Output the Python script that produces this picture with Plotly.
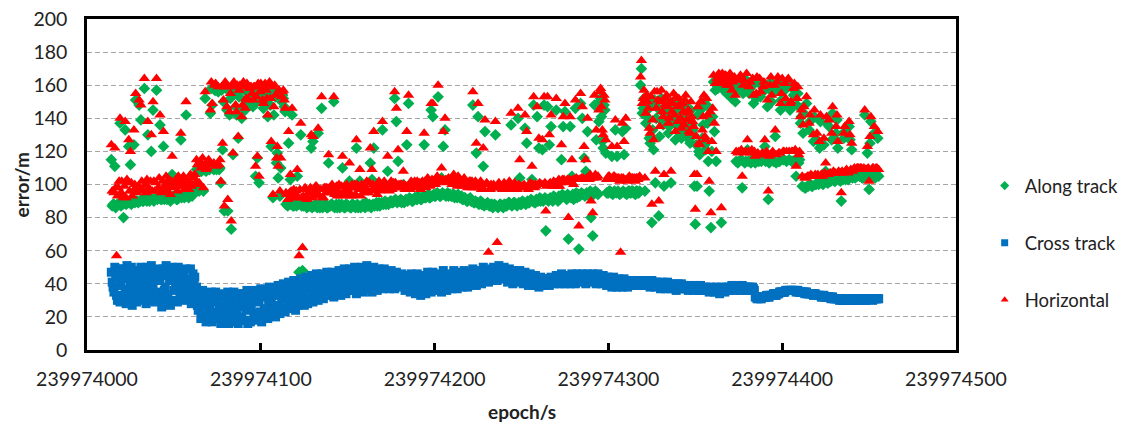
import plotly.graph_objects as go

# ---------------- data ----------------
EPOCH0 = 239974014          # first epoch
HALF = 0.5                  # the second list of each series sits half a second later

along = [
    115, 88, 111, 47, 88, 137, 89, 80, 133, 89,
    123, 112, 89, 124, 151, 90, 148, 139, 90, 158,
    91, 130, 90, 120, 145, 91, 157, 92, 136, 91,
    123, 92, 91, 93, 90, 106, 92, 93, 91, 92,
    127, 93, 92, 142, 94, 93, 95, 94, 96, 109,
    97, 109, 108, 96, 152, 109, 110, 143, 148, 109,
    157, 110, 109, 101, 121, 84, 158, 84, 142, 73,
    118, 157, 142, 128, 157, 140, 158, 145, 157, 149,
    158, 152, 157, 105, 116, 101, 157, 150, 156, 153,
    141, 157, 123, 92, 156, 113, 104, 93, 150, 152,
    144, 88, 125, 103, 142, 87, 89, 105, 47, 130,
    48, 88, 87, 88, 87, 122, 126, 87, 88, 131,
    86, 146, 87, 88, 86, 113, 87, 88, 150, 87,
    86, 88, 87, 110, 86, 88, 87, 102, 86, 88,
    87, 122, 86, 102, 87, 88, 86, 88, 87, 113,
    103, 122, 88, 87, 89, 88, 133, 89, 88, 108,
    89, 90, 89, 152, 138, 114, 90, 89, 100, 90,
    124, 149, 91, 90, 91, 92, 91, 92, 91, 92,
    124, 92, 93, 92, 145, 141, 93, 94, 153, 93,
    104, 123, 133, 94, 93, 94, 93, 94, 93, 92,
    93, 92, 91, 92, 91, 90, 91, 90, 148, 89,
    119, 141, 89, 88, 111, 132, 88, 42, 87, 88,
    87, 130, 50, 87, 88, 87, 88, 87, 88, 89,
    136, 88, 89, 88, 140, 104, 88, 89, 134, 125,
    89, 90, 103, 148, 89, 141, 122, 90, 121, 148,
    72, 147, 124, 135, 90, 91, 145, 90, 91, 115,
    135, 144, 91, 67, 135, 105, 91, 146, 92, 61,
    149, 140, 116, 108, 132, 93, 80, 69, 148, 127,
    94, 150, 141, 122, 145, 95, 95, 96, 117, 95,
    133, 117, 95, 42, 132, 118, 134, 95, 96, 95,
    96, 95, 96, 95, 96, 170, 146, 96, 148, 140,
    125, 77, 121, 101, 150, 81, 145, 138, 99, 147,
    141, 135, 101, 144, 137, 149, 132, 143, 128, 139,
    146, 134, 140, 125, 136, 130, 76, 99, 120, 145,
    128, 150, 121, 137, 96, 74, 141, 132, 114, 158,
    162, 77, 160, 162, 155, 158, 163, 152, 160, 150,
    158, 114, 162, 98, 159, 114, 121, 155, 113, 160,
    114, 152, 115, 161, 114, 156, 123, 115, 91, 157,
    150, 114, 129, 158, 114, 145, 160, 115, 148, 159,
    115, 146, 114, 157, 105, 155, 115, 141, 131, 98,
    149, 99, 138, 99, 126, 100, 127, 100, 138, 101,
    124, 108, 101, 135, 102, 143, 102, 131, 122, 103,
    90, 103, 132, 104, 103, 127, 121, 105, 104, 105,
    106, 105, 104, 106, 105, 119, 97, 138, 106, 131,
    105, 128,
]

along_half = [
    87, 88, 86, 88, 89, 87, 88, 89, 88, 89,
    89, 88, 90, 89, 90, 89, 90, 91, 90, 91,
    90, 91, 92, 91, 90, 92, 91, 92, 91, 92,
    91, 92, 93, 92, 91, 93, 92, 91, 92, 93,
    92, 93, 94, 93, 92, 94, 93, 95, 96, 109,
    96, 108, 110, 109, 108, 110, 109, 158, 110, 157,
    109, 156, 110, 157, 150, 159, 145, 158, 152, 157,
    158, 147, 157, 153, 158, 146, 157, 150, 158, 155,
    157, 147, 158, 150, 157, 154, 158, 146, 157, 151,
    156, 148, 157, 142, 153, 119, 155, 110, 154, 147,
    88, 87, 89, 88, 87, 88, 87, 88, 89, 87,
    87, 88, 86, 87, 88, 86, 87, 88, 86, 87,
    88, 86, 87, 88, 86, 87, 88, 87, 86, 88,
    87, 86, 88, 87, 86, 88, 87, 86, 88, 87,
    86, 88, 87, 86, 88, 87, 89, 87, 88, 86,
    88, 87, 89, 88, 87, 89, 88, 90, 89, 88,
    90, 89, 90, 91, 89, 90, 91, 90, 89, 91,
    90, 92, 91, 90, 92, 91, 93, 92, 91, 93,
    92, 93, 94, 92, 93, 94, 93, 95, 94, 93,
    95, 94, 93, 95, 94, 93, 94, 92, 93, 94,
    92, 93, 91, 92, 90, 91, 92, 90, 89, 90,
    89, 88, 90, 89, 87, 88, 89, 87, 88, 86,
    88, 87, 86, 88, 87, 86, 88, 87, 89, 88,
    87, 89, 88, 87, 89, 88, 90, 89, 88, 90,
    89, 91, 90, 89, 91, 90, 92, 91, 90, 92,
    91, 90, 92, 91, 93, 92, 91, 93, 92, 94,
    93, 92, 94, 93, 92, 94, 93, 95, 94, 93,
    95, 94, 93, 95, 94, 96, 95, 94, 96, 95,
    138, 152, 126, 148, 119, 95, 96, 95, 94, 96,
    95, 96, 94, 95, 96, 95, 94, 96, 95, 96,
    95, 94, 96, 95, 160, 143, 152, 137, 145, 128,
    148, 133, 151, 140, 146, 129, 152, 136, 143, 149,
    131, 145, 139, 150, 127, 142, 147, 135, 144, 130,
    149, 138, 127, 145, 133, 99, 124, 142, 118, 146,
    136, 124, 148, 114, 139, 120, 162, 157, 160, 163,
    159, 163, 157, 162, 160, 155, 161, 158, 161, 114,
    113, 160, 115, 155, 113, 163, 114, 158, 115, 149,
    113, 162, 114, 153, 115, 159, 114, 147, 113, 162,
    115, 156, 113, 161, 114, 151, 115, 157, 114, 160,
    145, 114, 154, 115, 148, 113, 137, 99, 143, 98,
    99, 133, 100, 99, 141, 100, 101, 122, 101, 100,
    102, 137, 101, 102, 127, 103, 102, 139, 103, 102,
    104, 128, 103, 104, 135, 105, 104, 106, 105, 106,
    105, 106, 104, 142, 105, 106, 125, 105, 106, 104,
    106, 105,
]

cross = [
    47, 38, 50, 33, 44, 29, 49, 45, 36, 51,
    31, 42, 27, 48, 35, 40, 30, 50, 37, 44,
    28, 46, 33, 51, 39, 29, 47, 35, 42, 26,
    49, 38, 31, 45, 27, 50, 36, 41, 29, 48,
    34, 44, 30, 49, 37, 40, 28, 46, 44, 38,
    24, 35, 28, 20, 33, 18, 34, 22, 17, 29,
    35, 19, 26, 16, 32, 24, 18, 35, 21, 28,
    17, 33, 25, 16, 30, 20, 34, 18, 36, 27,
    17, 31, 22, 36, 18, 29, 37, 20, 25, 33,
    19, 38, 28, 21, 35, 24, 39, 22, 31, 40,
    23, 34, 41, 25, 36, 42, 24, 31, 33, 43,
    40, 27, 44, 28, 37, 45, 29, 40, 46, 30,
    36, 46, 31, 42, 47, 33, 39, 47, 32, 44,
    35, 48, 33, 41, 49, 34, 45, 49, 36, 42,
    50, 34, 46, 39, 50, 35, 44, 51, 37, 47,
    35, 50, 41, 36, 49, 44, 37, 49, 40, 46,
    37, 48, 42, 37, 47, 40, 38, 46, 42, 36,
    45, 39, 35, 44, 40, 34, 46, 38, 33, 45,
    41, 34, 47, 39, 35, 47, 42, 36, 46, 41,
    35, 48, 43, 36, 46, 40, 37, 48, 42, 37,
    47, 41, 38, 48, 43, 38, 46, 40, 49, 44,
    39, 48, 42, 40, 50, 45, 49, 41, 44, 42,
    50, 46, 42, 51, 45, 43, 50, 44, 41, 49,
    45, 40, 48, 43, 41, 48, 44, 40, 47, 43,
    39, 46, 42, 39, 45, 41, 38, 44, 40, 39,
    43, 41, 39, 44, 42, 40, 45, 41, 40, 46,
    42, 40, 45, 43, 40, 46, 42, 40, 46, 43,
    41, 46, 42, 40, 46, 44, 41, 46, 43, 40,
    46, 42, 40, 45, 42, 39, 44, 41, 38, 44,
    40, 38, 43, 41, 38, 43, 40, 38, 42, 40,
    39, 42, 40, 39, 42, 40, 41, 39, 42, 40,
    38, 42, 40, 38, 41, 39, 37, 41, 39, 37,
    41, 38, 37, 40, 38, 36, 40, 38, 40, 37,
    39, 38, 36, 39, 38, 36, 39, 37, 36, 39,
    37, 36, 38, 37, 35, 38, 37, 35, 38, 36,
    34, 38, 36, 35, 38, 37, 36, 39, 37, 36,
    39, 37, 36, 39, 37, 36, 38, 37, 36, 38,
    36, 32, 31, 32, 31, 32, 32, 33, 32, 33,
    33, 34, 33, 34, 34, 35, 35, 35, 36, 36,
    36, 36, 36, 36, 35, 36, 35, 35, 35, 34,
    35, 34, 34, 34, 33, 34, 33, 33, 33, 32,
    33, 32, 32, 32, 31, 32, 31, 31, 31, 30,
    31, 30, 30, 31, 30, 30, 31, 30, 31, 31,
    30, 31, 31, 31, 30, 31, 31, 31, 30, 31,
    31, 31,
]

cross_half = [
    41, 35, 46, 30, 49, 39, 33, 43, 28, 47,
    37, 50, 33, 45, 29, 43, 38, 47, 32, 41,
    50, 36, 44, 30, 48, 42, 34, 49, 31, 45,
    36, 51, 33, 42, 47, 30, 44, 38, 50, 33,
    40, 48, 35, 43, 31, 49, 36, 42, 32, 27,
    30, 19, 36, 25, 17, 31, 27, 35, 23, 33,
    21, 30, 34, 23, 19, 33, 27, 16, 31, 23,
    35, 20, 29, 34, 18, 26, 31, 24, 16, 33,
    26, 35, 19, 30, 34, 23, 17, 32, 36, 21,
    30, 34, 24, 37, 20, 33, 27, 38, 25, 35,
    37, 28, 32, 39, 29, 35, 40, 27, 38, 30,
    34, 42, 31, 39, 44, 33, 38, 45, 35, 42,
    40, 34, 45, 37, 42, 46, 35, 43, 39, 46,
    41, 38, 46, 37, 44, 47, 40, 36, 47, 45,
    39, 47, 42, 36, 45, 48, 40, 38, 49, 42,
    47, 45, 39, 48, 41, 43, 47, 39, 44, 41,
    44, 39, 45, 43, 40, 44, 41, 39, 45, 40,
    42, 37, 46, 38, 43, 41, 36, 42, 39, 37,
    44, 38, 43, 36, 44, 40, 38, 44, 39, 45,
    41, 39, 45, 40, 43, 45, 39, 44, 40, 46,
    44, 40, 45, 41, 46, 42, 44, 47, 41, 47,
    45, 43, 47, 46, 42, 48, 46, 43, 48, 47,
    44, 48, 47, 44, 48, 46, 43, 47, 45, 43,
    43, 46, 45, 42, 46, 45, 42, 45, 44, 41,
    44, 41, 43, 42, 40, 43, 42, 41, 43, 42,
    40, 43, 42, 41, 43, 42, 43, 44, 42, 43,
    44, 42, 43, 45, 43, 42, 44, 43, 42, 45,
    43, 44, 45, 43, 42, 45, 43, 44, 45, 42,
    43, 44, 42, 43, 44, 41, 42, 43, 41, 42,
    42, 41, 39, 42, 41, 40, 42, 41, 39, 41,
    41, 40, 41, 42, 39, 41, 40, 41, 39, 41,
    40, 39, 41, 40, 39, 40, 38, 39, 40, 38,
    39, 40, 38, 39, 37, 38, 39, 37, 38, 39,
    37, 38, 37, 38, 37, 38, 37, 38, 37, 36,
    38, 37, 36, 37, 36, 37, 36, 37, 37, 35,
    36, 37, 37, 36, 37, 38, 37, 38, 38, 37,
    38, 38, 37, 38, 38, 37, 37, 38, 37, 37,
    32, 31, 32, 31, 32, 32, 32, 33, 32, 33,
    33, 34, 33, 34, 35, 35, 35, 35, 36, 36,
    36, 36, 36, 36, 36, 35, 35, 35, 35, 35,
    34, 34, 34, 34, 34, 33, 33, 33, 32, 33,
    32, 32, 32, 32, 32, 31, 31, 31, 31, 31,
    30, 30, 31, 30, 30, 31, 30, 31, 31, 30,
    31, 31, 31, 30, 31, 31, 31, 31, 31, 31,
    31, 31,
]

horizontal = [
    124, 96, 122, 57, 98, 140, 102, 92, 138, 103,
    127, 120, 93, 133, 155, 98, 151, 148, 97, 164,
    95, 138, 96, 130, 150, 96, 164, 98, 142, 95,
    132, 100, 96, 103, 94, 117, 99, 102, 96, 104,
    131, 103, 97, 150, 101, 101, 99, 105, 106, 115,
    100, 114, 112, 98, 156, 110, 115, 145, 149, 113,
    161, 112, 112, 102, 125, 87, 159, 91, 144, 78,
    119, 160, 144, 129, 160, 141, 162, 146, 161, 151,
    159, 155, 159, 111, 117, 105, 161, 151, 158, 157,
    142, 162, 126, 94, 160, 116, 111, 96, 153, 157,
    146, 94, 132, 106, 146, 97, 92, 109, 57, 137,
    62, 92, 97, 92, 95, 130, 129, 96, 99, 134,
    93, 153, 92, 98, 98, 118, 95, 100, 153, 97,
    93, 100, 93, 117, 99, 94, 98, 113, 93, 98,
    100, 127, 98, 109, 100, 95, 97, 102, 95, 122,
    109, 132, 97, 94, 102, 98, 138, 102, 97, 117,
    96, 102, 98, 156, 146, 121, 98, 100, 108, 97,
    132, 154, 97, 100, 99, 98, 102, 100, 97, 102,
    131, 98, 104, 100, 149, 149, 102, 101, 160, 102,
    110, 132, 140, 101, 104, 102, 100, 106, 102, 99,
    104, 101, 99, 104, 101, 98, 102, 98, 156, 99,
    125, 149, 98, 97, 122, 139, 101, 59, 97, 98,
    100, 138, 65, 101, 99, 97, 101, 97, 97, 102,
    143, 97, 101, 98, 146, 115, 98, 98, 142, 132,
    97, 101, 111, 153, 100, 147, 128, 100, 127, 153,
    84, 153, 130, 142, 99, 99, 152, 99, 99, 124,
    141, 149, 102, 80, 141, 115, 100, 151, 103, 75,
    155, 147, 123, 115, 140, 103, 90, 83, 154, 133,
    105, 156, 147, 130, 151, 103, 105, 104, 123, 105,
    139, 123, 104, 59, 137, 126, 140, 102, 105, 103,
    104, 104, 104, 103, 105, 175, 152, 104, 154, 146,
    131, 88, 127, 108, 156, 90, 150, 144, 106, 152,
    147, 140, 108, 149, 142, 153, 138, 148, 134, 144,
    151, 139, 145, 131, 141, 135, 85, 106, 125, 150,
    133, 154, 127, 142, 102, 83, 146, 137, 120, 162,
    166, 86, 164, 166, 160, 162, 167, 157, 164, 154,
    163, 120, 166, 105, 163, 120, 127, 159, 119, 164,
    120, 155, 119, 164, 118, 159, 127, 120, 96, 160,
    154, 119, 133, 162, 119, 149, 164, 120, 152, 163,
    120, 150, 120, 161, 111, 159, 120, 145, 136, 104,
    153, 105, 142, 105, 130, 106, 131, 105, 142, 106,
    128, 113, 106, 139, 107, 147, 107, 135, 126, 107,
    95, 107, 135, 109, 107, 130, 125, 109, 109, 110,
    110, 110, 109, 110, 109, 123, 102, 141, 110, 135,
    110, 132,
]

horizontal_half = [
    96, 95, 98, 93, 102, 95, 94, 99, 92, 101,
    96, 101, 96, 100, 95, 99, 98, 102, 96, 100,
    103, 98, 102, 96, 102, 101, 97, 104, 96, 102,
    98, 105, 99, 101, 102, 98, 102, 99, 105, 99,
    100, 105, 100, 102, 97, 106, 100, 104, 101, 112,
    101, 110, 116, 112, 109, 114, 112, 162, 112, 160,
    111, 159, 115, 159, 151, 162, 147, 159, 155, 159,
    162, 148, 160, 157, 159, 148, 160, 152, 159, 158,
    159, 151, 159, 153, 161, 156, 159, 149, 161, 152,
    159, 152, 159, 147, 154, 123, 157, 116, 156, 151,
    95, 91, 95, 96, 92, 95, 96, 92, 97, 92,
    93, 98, 91, 95, 98, 92, 95, 99, 93, 97,
    97, 92, 98, 95, 96, 98, 95, 97, 94, 99,
    96, 94, 99, 95, 97, 100, 96, 93, 100, 98,
    94, 100, 97, 93, 99, 99, 98, 95, 101, 96,
    100, 98, 97, 100, 96, 99, 100, 98, 99, 97,
    100, 97, 101, 101, 98, 100, 100, 98, 100, 99,
    99, 99, 102, 98, 102, 100, 100, 101, 99, 100,
    102, 100, 103, 99, 103, 102, 100, 105, 102, 103,
    103, 102, 103, 103, 103, 103, 102, 102, 101, 105,
    102, 101, 102, 101, 101, 100, 102, 102, 98, 102,
    100, 98, 102, 100, 97, 100, 100, 97, 100, 98,
    98, 99, 98, 98, 99, 98, 98, 99, 100, 98,
    97, 100, 99, 97, 100, 99, 99, 100, 98, 99,
    99, 100, 100, 98, 99, 100, 101, 100, 100, 101,
    99, 100, 101, 100, 102, 101, 101, 103, 101, 103,
    103, 101, 103, 103, 102, 103, 103, 104, 103, 103,
    104, 104, 103, 104, 103, 106, 104, 104, 106, 104,
    145, 158, 133, 154, 127, 103, 105, 104, 103, 105,
    104, 104, 102, 104, 104, 103, 103, 104, 103, 104,
    103, 102, 104, 104, 165, 149, 157, 143, 150, 134,
    153, 139, 156, 146, 151, 135, 157, 141, 148, 154,
    137, 150, 144, 155, 132, 147, 152, 140, 149, 136,
    154, 143, 132, 150, 138, 106, 129, 147, 124, 150,
    141, 129, 152, 120, 144, 126, 166, 161, 164, 167,
    163, 167, 161, 166, 164, 160, 165, 162, 165, 120,
    119, 164, 121, 160, 119, 167, 120, 162, 121, 154,
    117, 165, 118, 156, 119, 162, 118, 151, 117, 165,
    120, 160, 118, 165, 119, 155, 120, 161, 120, 164,
    149, 120, 158, 121, 152, 118, 141, 105, 147, 104,
    105, 137, 106, 105, 145, 105, 106, 126, 106, 105,
    107, 141, 106, 107, 131, 108, 107, 142, 108, 107,
    108, 131, 108, 108, 138, 109, 108, 110, 109, 110,
    109, 110, 109, 145, 109, 110, 129, 109, 110, 109,
    110, 109,
]

series_names = ["Along track", "Cross track", "Horizontal"]
x_ticks = [239974000, 239974100, 239974200, 239974300, 239974400, 239974500]
y_ticks = [0, 20, 40, 60, 80, 100, 120, 140, 160, 180, 200]

# ---------------- figure ----------------
FONT = "Lato"
TXT = "#222222"
GREEN, BLUE, RED = "#00B050", "#0070C0", "#FF0000"


def epochs(values, offset=0.0):
    return [EPOCH0 + offset + i for i in range(len(values))]


styles = [
    (series_names[0], along, along_half, "diamond", 9, GREEN),
    (series_names[1], cross, cross_half, "square", 9, BLUE),
    (series_names[2], horizontal, horizontal_half, "triangle-up", 10, RED),
]

fig = go.Figure()
for name, vals, vals_half, sym, size, col in styles:
    fig.add_trace(go.Scatter(
        x=epochs(vals) + epochs(vals_half, HALF), y=vals + vals_half,
        mode="markers", name=name, showlegend=False,
        marker=dict(symbol=sym, size=size, color=col, line=dict(width=0)),
    ))
# legend entries (small symbols, like the reference legend)
for i, (name, vals, vals_half, sym, size, col) in enumerate(styles):
    fig.add_trace(go.Scatter(
        x=[None], y=[None], mode="markers", name=name, legendgroup=str(i),
        marker=dict(symbol=sym, size=7, color=col, line=dict(width=0)),
    ))

fig.update_layout(
    width=1133, height=423,
    margin=dict(l=87, r=177, t=19, b=73, autoexpand=False),
    paper_bgcolor="white", plot_bgcolor="white",
    font=dict(family=FONT, size=18, color=TXT),
    showlegend=True,
    legend=dict(
        x=1.033, xanchor="left", y=0.323, yanchor="middle",
        traceorder="grouped", tracegroupgap=30,
        font=dict(family=FONT, size=18.5, color=TXT),
        bgcolor="rgba(0,0,0,0)",
    ),
    annotations=[
        dict(text="<b>error/m</b>", xref="paper", yref="paper",
             x=-0.0748, y=0.5, xanchor="center", yanchor="middle",
             textangle=-90, showarrow=False,
             font=dict(family=FONT, size=19, color=TXT)),
        dict(text="<b>epoch/s</b>", xref="paper", yref="paper",
             x=0.5, y=-0.187, xanchor="center", yanchor="middle",
             showarrow=False,
             font=dict(family=FONT, size=19, color=TXT)),
    ],
)

fig.update_xaxes(
    range=[x_ticks[0], x_ticks[-1]],
    tickmode="array", tickvals=x_ticks,
    ticktext=[str(v) for v in x_ticks],
    ticks="inside", ticklen=7, tickwidth=2.5, tickcolor="black",
    showline=True, linecolor="black", linewidth=2.5, mirror=True,
    showgrid=False, zeroline=False, automargin=False,
    ticklabelstandoff=10,
    tickfont=dict(family=FONT, size=19.5, color=TXT),
)
fig.update_yaxes(
    range=[y_ticks[0], y_ticks[-1]],
    tickmode="array", tickvals=y_ticks,
    ticks="", showline=True, linecolor="black", linewidth=2.5, mirror=True,
    showgrid=True, gridcolor="#A6A6A6", gridwidth=1, griddash="5px,3px",
    zeroline=False, automargin=False,
    ticklabelstandoff=13,
    tickfont=dict(family=FONT, size=19.5, color=TXT),
)

fig.write_html("out.html")
